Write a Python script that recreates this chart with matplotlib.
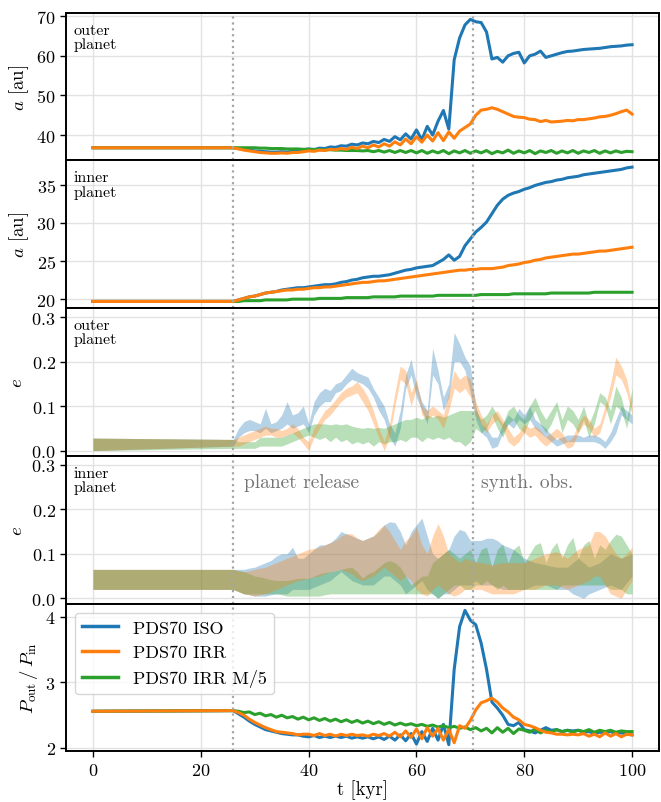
import numpy as np
import matplotlib
matplotlib.use("Agg")
import matplotlib.pyplot as plt

plt.rcParams['font.family'] = ['cmr10', 'DejaVu Serif']
plt.rcParams['mathtext.fontset'] = 'cm'
plt.rcParams['axes.formatter.use_mathtext'] = True
plt.rcParams['font.size'] = 13

# time grid [kyr]: start, then one sample per kyr after the release
t_kyr = np.concatenate([[0], np.arange(26, 101)])
t_release = 26.0
t_obs = 70.5

labels = ["PDS70 ISO", "PDS70 IRR", "PDS70 IRR M/5"]
colors = ["#1f77b4", "#ff7f0e", "#2ca02c"]
draw_order = [0, 2, 1]   # orange ends up on top, as in the original

# semi-major axis, outer planet [au]
a_out_iso = [36.8,
             36.8, 36.6, 36.4, 36.2,
             36.0, 35.9, 35.8, 35.7, 35.7, 35.8, 35.7, 35.9, 36.0, 36.3,
             36.5, 36.3, 36.7, 36.6, 37.0, 36.9, 37.3, 37.2, 37.7, 37.5,
             38.0, 37.8, 38.4, 38.1, 38.9, 38.4, 39.6, 38.8, 40.3, 39.0,
             41.3, 38.8, 42.2, 40.0, 43.5, 46.2, 41.5, 59.0, 64.5, 67.8,
             69.2, 68.6, 68.4, 66.0, 59.2, 59.6, 58.4, 60.0, 60.6, 60.9,
             58.2, 60.0, 60.4, 61.2, 59.6, 60.0, 60.4, 60.8, 61.1, 61.2,
             61.4, 61.6, 61.7, 61.8, 61.9, 62.1, 62.3, 62.4, 62.5, 62.7,
             62.8]
a_out_irr = [36.8,
             36.8, 36.5, 36.2, 36.0,
             35.8, 35.6, 35.5, 35.4, 35.4, 35.5, 35.4, 35.6, 35.6, 35.8,
             36.0, 35.9, 36.2, 36.1, 36.4, 36.3, 36.6, 36.4, 36.9, 36.6,
             37.2, 36.8, 37.5, 37.0, 37.8, 37.2, 38.3, 37.5, 39.0, 37.8,
             39.6, 38.2, 40.0, 38.5, 40.6, 38.6, 40.8, 39.2, 41.0, 41.9,
             42.8, 45.0, 46.3, 46.5, 46.9, 46.5, 45.9, 45.3, 44.7, 44.5,
             44.4, 44.0, 43.9, 43.4, 43.7, 43.3, 43.4, 43.5, 43.7, 43.6,
             43.9, 43.9, 44.1, 44.3, 44.6, 44.7, 45.0, 45.4, 45.9, 46.3,
             45.3]
a_out_m5 = [36.8,
            36.8, 36.8, 36.8, 36.8,
            36.8, 36.7, 36.7, 36.6, 36.6, 36.6, 36.5, 36.5, 36.5, 36.4,
            36.4, 36.4, 36.3, 36.3, 36.3, 36.2, 36.2, 36.1, 36.1, 36.1,
            36.0, 36.1, 35.8, 36.1, 35.7, 36.1, 35.6, 36.1, 35.6, 36.1,
            35.5, 36.1, 35.4, 36.0, 35.5, 36.1, 35.3, 36.0, 35.5, 36.1,
            35.4, 36.0, 35.5, 36.1, 35.3, 35.9, 35.5, 36.2, 35.4, 36.0,
            35.5, 36.1, 35.3, 36.0, 35.6, 36.1, 35.4, 36.0, 35.5, 36.1,
            35.4, 36.0, 35.6, 36.1, 35.4, 36.0, 35.5, 36.0, 35.6, 35.9,
            35.8]

# semi-major axis, inner planet [au]
a_in_iso = [19.7,
            19.7, 19.9, 20.1, 20.3,
            20.4, 20.6, 20.8, 20.9, 21.0, 21.2, 21.3, 21.4, 21.5, 21.5,
            21.6, 21.7, 21.8, 21.9, 21.9, 22.0, 22.2, 22.3, 22.5, 22.6,
            22.8, 22.9, 23.0, 23.0, 23.1, 23.2, 23.4, 23.6, 23.8, 23.9,
            24.1, 24.2, 24.3, 24.4, 24.8, 25.2, 25.8, 25.1, 25.6, 27.0,
            27.9, 28.8, 29.4, 30.1, 31.2, 32.3, 33.1, 33.6, 33.9, 34.1,
            34.4, 34.6, 34.9, 35.1, 35.3, 35.4, 35.6, 35.7, 35.9, 36.0,
            36.1, 36.3, 36.4, 36.5, 36.6, 36.7, 36.8, 36.9, 37.0, 37.2,
            37.3]
a_in_irr = [19.7,
            19.7, 19.9, 20.1, 20.3,
            20.4, 20.6, 20.8, 20.9, 21.0, 21.1, 21.2, 21.2, 21.3, 21.3,
            21.4, 21.5, 21.5, 21.6, 21.6, 21.7, 21.8, 21.9, 22.0, 22.1,
            22.2, 22.2, 22.3, 22.4, 22.4, 22.5, 22.6, 22.7, 22.8, 22.9,
            23.0, 23.1, 23.2, 23.3, 23.4, 23.5, 23.6, 23.7, 23.8, 23.8,
            23.9, 23.9, 24.0, 24.0, 24.0, 24.1, 24.2, 24.4, 24.5, 24.6,
            24.8, 24.9, 25.1, 25.2, 25.4, 25.5, 25.6, 25.7, 25.8, 25.9,
            25.9, 26.0, 26.1, 26.2, 26.3, 26.3, 26.4, 26.5, 26.6, 26.7,
            26.8]
a_in_m5 = [19.7,
           19.7, 19.7, 19.8, 19.8,
           19.8, 19.8, 19.9, 19.9, 19.9, 19.9, 19.9, 20.0, 20.0, 20.0,
           20.0, 20.0, 20.1, 20.1, 20.1, 20.1, 20.1, 20.2, 20.2, 20.2,
           20.2, 20.2, 20.3, 20.3, 20.3, 20.3, 20.3, 20.4, 20.4, 20.4,
           20.4, 20.4, 20.4, 20.4, 20.5, 20.5, 20.5, 20.5, 20.5, 20.5,
           20.5, 20.5, 20.6, 20.6, 20.6, 20.6, 20.6, 20.6, 20.7, 20.7,
           20.7, 20.7, 20.7, 20.7, 20.7, 20.8, 20.8, 20.8, 20.8, 20.8,
           20.8, 20.8, 20.8, 20.9, 20.9, 20.9, 20.9, 20.9, 20.9, 20.9,
           20.9]

# eccentricity, outer planet (lower / upper envelope)
e_out_iso_lo = [0.0,
                0.010, 0.030, 0.040, 0.045,
                0.045, 0.040, 0.050, 0.040, 0.045, 0.050, 0.060, 0.050, 0.055, 0.060,
                0.040, 0.080, 0.100, 0.110, 0.110, 0.130, 0.135, 0.150, 0.160, 0.155,
                0.150, 0.140, 0.120, 0.090, 0.070, 0.030, 0.010, 0.050, 0.140, 0.170,
                0.120, 0.090, 0.060, 0.170, 0.150, 0.090, 0.120, 0.200, 0.200, 0.180,
                0.130, 0.070, 0.040, 0.030, 0.005, 0.010, 0.040, 0.060, 0.050, 0.070,
                0.060, 0.070, 0.050, 0.040, 0.030, 0.020, 0.010, 0.015, 0.020, 0.020,
                0.020, 0.020, 0.020, 0.020, 0.015, 0.005, 0.020, 0.040, 0.080, 0.070,
                0.060]
e_out_iso_hi = [0.028,
                0.025, 0.050, 0.065, 0.070,
                0.065, 0.060, 0.095, 0.060, 0.065, 0.080, 0.110, 0.080, 0.085, 0.100,
                0.060, 0.110, 0.130, 0.140, 0.135, 0.150, 0.155, 0.170, 0.185, 0.175,
                0.170, 0.165, 0.140, 0.120, 0.100, 0.060, 0.040, 0.090, 0.170, 0.205,
                0.150, 0.110, 0.090, 0.230, 0.180, 0.120, 0.150, 0.265, 0.240, 0.210,
                0.190, 0.100, 0.060, 0.050, 0.030, 0.030, 0.060, 0.080, 0.070, 0.095,
                0.080, 0.100, 0.070, 0.060, 0.050, 0.035, 0.025, 0.030, 0.035, 0.035,
                0.035, 0.030, 0.035, 0.035, 0.030, 0.020, 0.040, 0.070, 0.100, 0.090,
                0.080]
e_out_irr_lo = [0.0,
                0.010, 0.010, 0.015, 0.020,
                0.025, 0.030, 0.035, 0.035, 0.030, 0.030, 0.035, 0.040, 0.030, 0.015,
                0.000, 0.030, 0.050, 0.070, 0.080, 0.095, 0.110, 0.120, 0.125, 0.130,
                0.110, 0.090, 0.060, 0.030, 0.000, 0.030, 0.100, 0.160, 0.150, 0.100,
                0.140, 0.080, 0.070, 0.080, 0.070, 0.050, 0.090, 0.140, 0.130, 0.140,
                0.120, 0.080, 0.060, 0.040, 0.060, 0.070, 0.050, 0.020, 0.010, 0.020,
                0.040, 0.030, 0.035, 0.020, 0.010, 0.020, 0.030, 0.020, 0.005, 0.010,
                0.040, 0.060, 0.050, 0.030, 0.040, 0.080, 0.120, 0.170, 0.160, 0.130,
                0.080]
e_out_irr_hi = [0.028,
                0.025, 0.030, 0.035, 0.040,
                0.045, 0.050, 0.055, 0.050, 0.050, 0.045, 0.050, 0.060, 0.050, 0.030,
                0.020, 0.050, 0.070, 0.090, 0.100, 0.115, 0.130, 0.140, 0.145, 0.155,
                0.140, 0.120, 0.090, 0.050, 0.020, 0.060, 0.130, 0.190, 0.180, 0.130,
                0.160, 0.100, 0.090, 0.100, 0.090, 0.080, 0.130, 0.180, 0.160, 0.170,
                0.160, 0.110, 0.080, 0.060, 0.080, 0.090, 0.070, 0.050, 0.030, 0.040,
                0.060, 0.050, 0.055, 0.045, 0.030, 0.040, 0.050, 0.040, 0.020, 0.030,
                0.060, 0.080, 0.070, 0.050, 0.060, 0.100, 0.150, 0.210, 0.190, 0.160,
                0.100]
e_out_m5_lo = [0.0,
               0.005, 0.005, 0.005, 0.005,
               0.005, 0.010, 0.010, 0.010, 0.010, 0.010, 0.015, 0.020, 0.025, 0.030,
               0.035, 0.030, 0.025, 0.030, 0.020, 0.030, 0.020, 0.025, 0.015, 0.020,
               0.015, 0.020, 0.010, 0.020, 0.015, 0.020, 0.020, 0.025, 0.020, 0.030,
               0.030, 0.020, 0.030, 0.025, 0.030, 0.025, 0.030, 0.020, 0.020, 0.010,
               0.020, 0.050, 0.040, 0.050, 0.080, 0.050, 0.030, 0.060, 0.070, 0.050,
               0.040, 0.070, 0.090, 0.060, 0.040, 0.060, 0.090, 0.040, 0.070, 0.060,
               0.040, 0.070, 0.030, 0.060, 0.110, 0.100, 0.060, 0.100, 0.090, 0.050,
               0.110]
e_out_m5_hi = [0.028,
               0.025, 0.020, 0.020, 0.020,
               0.020, 0.030, 0.030, 0.030, 0.030, 0.030, 0.035, 0.040, 0.045, 0.050,
               0.055, 0.060, 0.060, 0.060, 0.058, 0.060, 0.058, 0.060, 0.055, 0.052,
               0.050, 0.052, 0.050, 0.052, 0.050, 0.055, 0.060, 0.065, 0.070, 0.070,
               0.075, 0.070, 0.080, 0.075, 0.080, 0.075, 0.080, 0.085, 0.090, 0.090,
               0.090, 0.090, 0.070, 0.080, 0.100, 0.080, 0.060, 0.090, 0.100, 0.080,
               0.070, 0.100, 0.120, 0.090, 0.070, 0.090, 0.110, 0.070, 0.100, 0.090,
               0.070, 0.100, 0.060, 0.090, 0.130, 0.120, 0.090, 0.145, 0.120, 0.070,
               0.140]

# eccentricity, inner planet (lower / upper envelope)
e_in_iso_lo = [0.020,
               0.020, 0.015, 0.010, 0.008,
               0.005, 0.005, 0.005, 0.008, 0.010, 0.010, 0.010, 0.020, 0.020, 0.020,
               0.020, 0.025, 0.030, 0.035, 0.040, 0.050, 0.060, 0.050, 0.040, 0.035,
               0.030, 0.030, 0.030, 0.040, 0.050, 0.050, 0.040, 0.030, 0.010, 0.020,
               0.030, 0.040, 0.020, 0.010, 0.000, 0.010, 0.010, 0.020, 0.030, 0.030,
               0.030, 0.040, 0.030, 0.030, 0.030, 0.025, 0.020, 0.020, 0.020, 0.020,
               0.020, 0.025, 0.030, 0.030, 0.030, 0.025, 0.020, 0.020, 0.020, 0.010,
               0.005, 0.000, 0.010, 0.015, 0.020, 0.025, 0.030, 0.025, 0.020, 0.035,
               0.050]
e_in_iso_hi = [0.065,
               0.065, 0.065, 0.065, 0.068,
               0.070, 0.075, 0.080, 0.085, 0.095, 0.100, 0.100, 0.115, 0.090, 0.090,
               0.100, 0.110, 0.120, 0.120, 0.125, 0.135, 0.150, 0.145, 0.140, 0.135,
               0.130, 0.135, 0.140, 0.150, 0.165, 0.172, 0.170, 0.150, 0.120, 0.150,
               0.165, 0.180, 0.140, 0.100, 0.090, 0.100, 0.110, 0.140, 0.155, 0.150,
               0.130, 0.130, 0.130, 0.135, 0.135, 0.130, 0.120, 0.115, 0.110, 0.100,
               0.090, 0.085, 0.080, 0.078, 0.075, 0.072, 0.070, 0.070, 0.070, 0.080,
               0.090, 0.080, 0.070, 0.075, 0.080, 0.090, 0.100, 0.095, 0.090, 0.095,
               0.100]
e_in_irr_lo = [0.020,
               0.020, 0.015, 0.010, 0.008,
               0.005, 0.008, 0.010, 0.015, 0.020, 0.025, 0.030, 0.035, 0.040, 0.042,
               0.045, 0.048, 0.050, 0.055, 0.060, 0.062, 0.065, 0.060, 0.055, 0.045,
               0.040, 0.045, 0.050, 0.060, 0.070, 0.060, 0.050, 0.040, 0.050, 0.040,
               0.020, 0.010, 0.005, 0.020, 0.030, 0.020, 0.010, 0.005, 0.010, 0.020,
               0.020, 0.020, 0.020, 0.015, 0.010, 0.010, 0.010, 0.010, 0.010, 0.015,
               0.020, 0.020, 0.020, 0.025, 0.030, 0.030, 0.030, 0.025, 0.020, 0.025,
               0.030, 0.035, 0.040, 0.050, 0.050, 0.030, 0.010, 0.005, 0.000, 0.020,
               0.040]
e_in_irr_hi = [0.065,
               0.065, 0.062, 0.060, 0.062,
               0.065, 0.068, 0.070, 0.075, 0.080, 0.085, 0.090, 0.095, 0.100, 0.105,
               0.110, 0.112, 0.115, 0.120, 0.125, 0.130, 0.140, 0.145, 0.145, 0.135,
               0.130, 0.135, 0.140, 0.155, 0.165, 0.150, 0.130, 0.110, 0.130, 0.140,
               0.160, 0.120, 0.100, 0.140, 0.168, 0.140, 0.100, 0.090, 0.080, 0.090,
               0.085, 0.082, 0.080, 0.078, 0.075, 0.078, 0.080, 0.080, 0.080, 0.080,
               0.080, 0.085, 0.090, 0.095, 0.100, 0.102, 0.105, 0.098, 0.090, 0.100,
               0.110, 0.115, 0.120, 0.150, 0.150, 0.140, 0.120, 0.100, 0.090, 0.100,
               0.115]
e_in_m5_lo = [0.020,
              0.020, 0.015, 0.010, 0.010,
              0.010, 0.010, 0.010, 0.010, 0.010, 0.008, 0.005, 0.005, 0.005, 0.005,
              0.005, 0.005, 0.005, 0.008, 0.010, 0.010, 0.010, 0.010, 0.010, 0.010,
              0.010, 0.010, 0.010, 0.010, 0.010, 0.010, 0.010, 0.010, 0.010, 0.010,
              0.010, 0.010, 0.010, 0.010, 0.000, 0.010, 0.020, 0.030, 0.030, 0.020,
              0.020, 0.030, 0.030, 0.040, 0.030, 0.020, 0.030, 0.020, 0.020, 0.020,
              0.020, 0.020, 0.020, 0.020, 0.020, 0.020, 0.020, 0.030, 0.030, 0.030,
              0.030, 0.030, 0.030, 0.030, 0.030, 0.030, 0.020, 0.020, 0.020, 0.010,
              0.010]
e_in_m5_hi = [0.065,
              0.065, 0.062, 0.060, 0.055,
              0.050, 0.048, 0.045, 0.042, 0.040, 0.040, 0.040, 0.042, 0.045, 0.045,
              0.045, 0.050, 0.055, 0.058, 0.060, 0.062, 0.065, 0.068, 0.070, 0.060,
              0.045, 0.055, 0.060, 0.070, 0.080, 0.085, 0.080, 0.070, 0.050, 0.030,
              0.040, 0.050, 0.050, 0.080, 0.090, 0.100, 0.110, 0.100, 0.090, 0.100,
              0.110, 0.080, 0.110, 0.115, 0.070, 0.110, 0.122, 0.080, 0.110, 0.120,
              0.080, 0.100, 0.120, 0.125, 0.080, 0.110, 0.126, 0.090, 0.120, 0.137,
              0.090, 0.120, 0.130, 0.090, 0.120, 0.110, 0.130, 0.144, 0.140, 0.120,
              0.100]

# period ratio P_out / P_in
p_iso = [2.56,
         2.57, 2.52, 2.47, 2.41,
         2.36, 2.32, 2.28, 2.26, 2.24, 2.22, 2.21, 2.20, 2.20, 2.18,
         2.17, 2.19, 2.16, 2.18, 2.16, 2.18, 2.16, 2.18, 2.15, 2.17,
         2.15, 2.17, 2.14, 2.17, 2.13, 2.18, 2.12, 2.20, 2.11, 2.22,
         2.06, 2.25, 2.10, 2.30, 2.12, 2.36, 2.05, 3.20, 3.85, 4.10,
         3.95, 3.88, 3.60, 3.20, 2.70, 2.61, 2.50, 2.36, 2.34, 2.39,
         2.28, 2.26, 2.23, 2.27, 2.31, 2.27, 2.28, 2.25, 2.27, 2.26,
         2.27, 2.24, 2.25, 2.22, 2.24, 2.23, 2.25, 2.22, 2.23, 2.21,
         2.20]
p_irr = [2.56,
         2.57, 2.54, 2.50, 2.44,
         2.39, 2.35, 2.31, 2.28, 2.25, 2.24, 2.23, 2.22, 2.20, 2.21,
         2.21, 2.19, 2.22, 2.19, 2.21, 2.18, 2.21, 2.19, 2.21, 2.19,
         2.20, 2.18, 2.21, 2.19, 2.22, 2.18, 2.24, 2.17, 2.26, 2.16,
         2.29, 2.14, 2.31, 2.18, 2.30, 2.12, 2.28, 2.08, 2.34, 2.30,
         2.42, 2.58, 2.69, 2.72, 2.76, 2.70, 2.61, 2.55, 2.47, 2.43,
         2.36, 2.34, 2.31, 2.27, 2.24, 2.23, 2.21, 2.21, 2.20, 2.21,
         2.20, 2.22, 2.18, 2.21, 2.17, 2.23, 2.18, 2.22, 2.17, 2.21,
         2.20]
p_m5 = [2.56,
        2.57, 2.56, 2.54, 2.55,
        2.51, 2.53, 2.49, 2.51, 2.47, 2.50, 2.46, 2.48, 2.44, 2.47,
        2.43, 2.46, 2.42, 2.45, 2.41, 2.44, 2.40, 2.43, 2.39, 2.42,
        2.38, 2.41, 2.37, 2.40, 2.36, 2.39, 2.35, 2.38, 2.35, 2.37,
        2.34, 2.36, 2.33, 2.35, 2.32, 2.34, 2.31, 2.33, 2.30, 2.32,
        2.28, 2.31, 2.26, 2.30, 2.23, 2.31, 2.24, 2.30, 2.22, 2.29,
        2.27, 2.24, 2.29, 2.23, 2.27, 2.24, 2.28, 2.25, 2.27, 2.24,
        2.27, 2.25, 2.28, 2.24, 2.27, 2.25, 2.27, 2.24, 2.26, 2.25,
        2.25]

fig, axes = plt.subplots(5, 1, figsize=(6.61, 8.03), dpi=100, sharex=True,
                         gridspec_kw=dict(hspace=0))
fig.subplots_adjust(left=0.1, right=0.997, top=0.983, bottom=0.063)

ax_ao, ax_ai, ax_eo, ax_ei, ax_p = axes

a_out = [a_out_iso, a_out_irr, a_out_m5]
a_in = [a_in_iso, a_in_irr, a_in_m5]
e_out = [(e_out_iso_lo, e_out_iso_hi), (e_out_irr_lo, e_out_irr_hi), (e_out_m5_lo, e_out_m5_hi)]
e_in = [(e_in_iso_lo, e_in_iso_hi), (e_in_irr_lo, e_in_irr_hi), (e_in_m5_lo, e_in_m5_hi)]
p_ratio = [p_iso, p_irr, p_m5]

handles = [None] * 3
for i in draw_order:
    c = colors[i]
    ax_ao.plot(t_kyr, a_out[i], color=c, lw=2.2)
    ax_ai.plot(t_kyr, a_in[i], color=c, lw=2.2)
    ax_eo.fill_between(t_kyr, e_out[i][0], e_out[i][1], color=c, alpha=0.33, lw=0)
    ax_ei.fill_between(t_kyr, e_in[i][0], e_in[i][1], color=c, alpha=0.33, lw=0)
    handles[i], = ax_p.plot(t_kyr, p_ratio[i], color=c, lw=2.2, label=labels[i])

for ax in axes:
    ax.grid(True, color='#e2e2e2', lw=1.0)
    ax.set_axisbelow(True)
    ax.axvline(t_release, color='0.65', ls=':', lw=1.6)
    ax.axvline(t_obs, color='0.65', ls=':', lw=1.6)
    ax.tick_params(direction='out', length=4, width=1.0, labelsize=13)
    for s in ax.spines.values():
        s.set_linewidth(1.4)

for ax in (ax_eo, ax_ei):
    ax.set_ylim(-0.012, 0.32)
    ax.set_yticks([0.0, 0.1, 0.2, 0.3])
ax_p.set_yticks([2, 3, 4])
ax_p.set_xticks([0, 20, 40, 60, 80, 100])

ax_ao.set_ylabel('$a$ [au]', fontsize=13.5)
ax_ai.set_ylabel('$a$ [au]', fontsize=13.5)
ax_eo.set_ylabel('$e$', fontsize=13.5)
ax_ei.set_ylabel('$e$', fontsize=13.5)
ax_p.set_ylabel(r'$P_\mathrm{out}\,/\,P_\mathrm{in}$', fontsize=13.5)
ax_p.set_xlabel('t [kyr]', fontsize=13.5, labelpad=1)

for ax, name in zip([ax_ao, ax_ai, ax_eo, ax_ei], ["outer", "inner", "outer", "inner"]):
    ax.text(0.012, 0.93, name + "\nplanet", transform=ax.transAxes,
            va='top', ha='left', fontsize=11.5, linespacing=1.05)

ax_ei.text(t_release + 2.0, 0.262, "planet release", color='0.45', fontsize=14, va='center')
ax_ei.text(t_obs + 1.5, 0.262, "synth. obs.", color='0.45', fontsize=14, va='center')

leg = ax_p.legend(handles=handles, loc='upper left', fontsize=13,
                  handlelength=2.0, framealpha=0.8)
for h in leg.get_lines():
    h.set_linewidth(2.5)

fig.savefig('out.png', dpi=100)
